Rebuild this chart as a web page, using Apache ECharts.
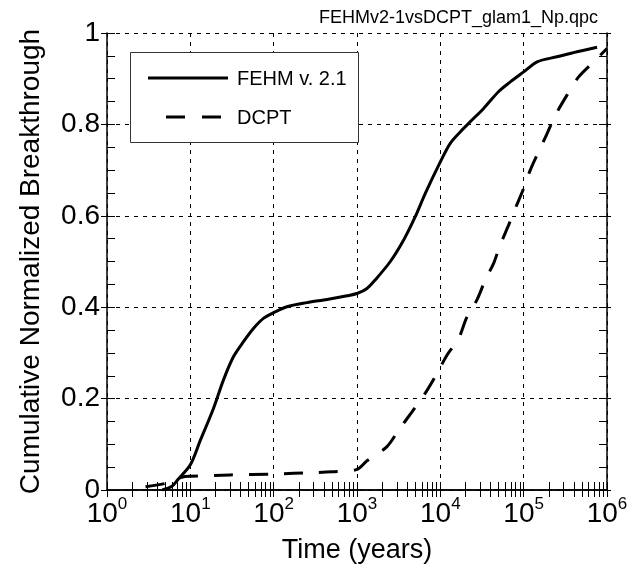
<!DOCTYPE html>
<html>
<head>
<meta charset="utf-8">
<script src="https://cdn.jsdelivr.net/npm/echarts@6/dist/echarts.min.js"></script>
<style>html,body{margin:0;padding:0;background:#fff;}#c{width:637px;height:569px;}</style>
</head>
<body>
<div id="c"></div>
<script>
var fehmTime = [4.6, 6, 7.1, 10, 13.2, 19, 25, 33, 43.6, 57.5, 76, 100, 144, 251, 437, 760, 1000, 1318, 1660, 2512, 3630, 5000, 6600, 10000, 13200, 17400, 22900, 33100, 50100, 69200, 100000, 145000, 251000, 437000, 760000];
var fehmFrac = [0, 0.008, 0.023, 0.055, 0.109, 0.179, 0.241, 0.292, 0.325, 0.354, 0.376, 0.388, 0.401, 0.41, 0.417, 0.425, 0.43, 0.441, 0.46, 0.5, 0.547, 0.598, 0.649, 0.718, 0.759, 0.784, 0.806, 0.835, 0.872, 0.893, 0.915, 0.937, 0.948, 0.959, 0.969];
var dcptTime = [2.9, 5.2, 7.9, 10, 30, 100, 300, 500, 1000, 1318, 2290, 3160, 4570, 6600, 9120, 12000, 16600, 20900, 27500, 34700, 43600, 52000, 66100, 79400, 100000, 120000, 151000, 191000, 240000, 331000, 457000, 692000, 1000000];
var dcptFrac = [0.007, 0.015, 0.028, 0.03, 0.033, 0.035, 0.038, 0.04, 0.045, 0.064, 0.095, 0.131, 0.171, 0.212, 0.255, 0.295, 0.332, 0.379, 0.416, 0.46, 0.496, 0.535, 0.58, 0.616, 0.66, 0.70, 0.74, 0.78, 0.82, 0.864, 0.904, 0.937, 0.966];
var xMajor = [1, 10, 100, 1000, 10000, 100000, 1000000];
var yMajor = [0, 0.2, 0.4, 0.6, 0.8, 1];
var seriesNames = ['FEHM v. 2.1', 'DCPT'];
var titleText = 'FEHMv2-1vsDCPT_glam1_Np.qpc';
var xTitle = 'Time (years)';
var yTitle = 'Cumulative Normalized Breakthrough';

var FONT = "'Liberation Sans', Arial, sans-serif";
var xMinor = [];
for (var k = 0; k < 6; k++) { for (var m = 1; m <= 9; m++) { xMinor.push(m * Math.pow(10, k)); } }
xMinor.push(1000000);
var yMinor = [];
for (var i = 0; i <= 20; i++) { yMinor.push(+(i * 0.05).toFixed(2)); }

function pairs(xs, ys) { return xs.map(function (x, j) { return [x, ys[j]]; }); }

var black = '#000';
var axLine = { show: true, lineStyle: { color: black, width: 1.5 } };
var gridDash = { show: true, lineStyle: { color: black, width: 1, type: [4, 5] } };

var chart = echarts.init(document.getElementById('c'), null, { renderer: 'canvas' });
chart.setOption({
  animation: false,
  backgroundColor: '#fff',
  title: { text: titleText, right: 34, top: 4, textStyle: { fontFamily: FONT, fontSize: 18, fontWeight: 'normal', color: black } },
  grid: { left: 107, right: 30, top: 33, bottom: 79, containLabel: false },
  xAxis: [
    { type: 'log', logBase: 10, min: 1, max: 1000000, position: 'bottom', axisLine: axLine,
      axisTick: { show: true, inside: false, length: 5, lineStyle: { color: black, width: 1 } },
      axisLabel: { margin: 6, color: black, fontFamily: FONT,
        formatter: function (v) { return '{b|10}{s|' + Math.round(Math.log10(v)) + '}'; },
        rich: { b: { fontSize: 28, lineHeight: 32, verticalAlign: 'bottom', fontFamily: FONT, color: black },
                s: { fontSize: 17, lineHeight: 14, verticalAlign: 'top', fontFamily: FONT, color: black } } },
      splitLine: gridDash,
      name: xTitle, nameLocation: 'middle', nameGap: 47, nameTextStyle: { fontFamily: FONT, fontSize: 27, color: black } },
    { type: 'log', logBase: 10, min: 1, max: 1000000, position: 'bottom', axisLine: { show: false },
      axisTick: { show: true, inside: true, length: 8, customValues: xMinor, lineStyle: { color: black, width: 1 } },
      axisLabel: { show: false }, splitLine: { show: false } },
    { type: 'log', logBase: 10, min: 1, max: 1000000, position: 'top', axisLine: axLine,
      axisTick: { show: true, inside: false, length: 5, lineStyle: { color: black, width: 1 } },
      axisLabel: { show: false }, splitLine: { show: false } },
    { type: 'log', logBase: 10, min: 1, max: 1000000, position: 'top', axisLine: { show: false },
      axisTick: { show: true, inside: true, length: 7, customValues: xMinor, lineStyle: { color: black, width: 1 } },
      axisLabel: { show: false }, splitLine: { show: false } }
  ],
  yAxis: [
    { type: 'value', min: 0, max: 1, interval: 0.2, position: 'left', axisLine: axLine,
      axisTick: { show: true, inside: false, length: 6, lineStyle: { color: black, width: 1 } },
      axisLabel: { margin: 7, color: black, fontFamily: FONT, fontSize: 28 },
      splitLine: gridDash,
      name: yTitle, nameLocation: 'middle', nameGap: 62, nameRotate: 90, nameTextStyle: { fontFamily: FONT, fontSize: 28, color: black } },
    { type: 'value', min: 0, max: 1, position: 'left', axisLine: { show: false },
      axisTick: { show: true, inside: true, length: 8, customValues: yMinor, lineStyle: { color: black, width: 1 } },
      axisLabel: { show: false }, splitLine: { show: false } },
    { type: 'value', min: 0, max: 1, interval: 0.2, position: 'right', axisLine: axLine,
      axisTick: { show: true, inside: false, length: 4, lineStyle: { color: black, width: 1 } },
      axisLabel: { show: false }, splitLine: { show: false } },
    { type: 'value', min: 0, max: 1, position: 'right', axisLine: { show: false },
      axisTick: { show: true, inside: true, length: 8, customValues: yMinor, lineStyle: { color: black, width: 1 } },
      axisLabel: { show: false }, splitLine: { show: false } }
  ],
  series: [
    { name: seriesNames[0], type: 'line', xAxisIndex: 0, yAxisIndex: 0, data: pairs(fehmTime, fehmFrac),
      showSymbol: false, symbol: 'none', smooth: 0.3, lineStyle: { color: black, width: 3 } },
    { name: seriesNames[1], type: 'line', xAxisIndex: 0, yAxisIndex: 0, data: pairs(dcptTime, dcptFrac),
      showSymbol: false, symbol: 'none', smooth: 0.3, lineStyle: { color: black, width: 3, type: [19, 16] } }
  ],
  graphic: [
    { type: 'rect', left: 130, top: 52, shape: { width: 228, height: 90 }, style: { fill: '#fff', stroke: '#333', lineWidth: 1 }, z: 10 },
    { type: 'line', shape: { x1: 148, y1: 78, x2: 228, y2: 78 }, style: { stroke: black, lineWidth: 3 }, z: 11 },
    { type: 'line', shape: { x1: 166, y1: 117, x2: 222, y2: 117 }, style: { stroke: black, lineWidth: 3, lineDash: [19, 17] }, z: 11 },
    { type: 'text', x: 237, y: 79, style: { text: seriesNames[0], font: '20px ' + FONT, fill: black, textVerticalAlign: 'middle', verticalAlign: 'middle' }, z: 11 },
    { type: 'text', x: 237, y: 118, style: { text: seriesNames[1], font: '20px ' + FONT, fill: black, textVerticalAlign: 'middle', verticalAlign: 'middle' }, z: 11 }
  ]
});
</script>
</body>
</html>
